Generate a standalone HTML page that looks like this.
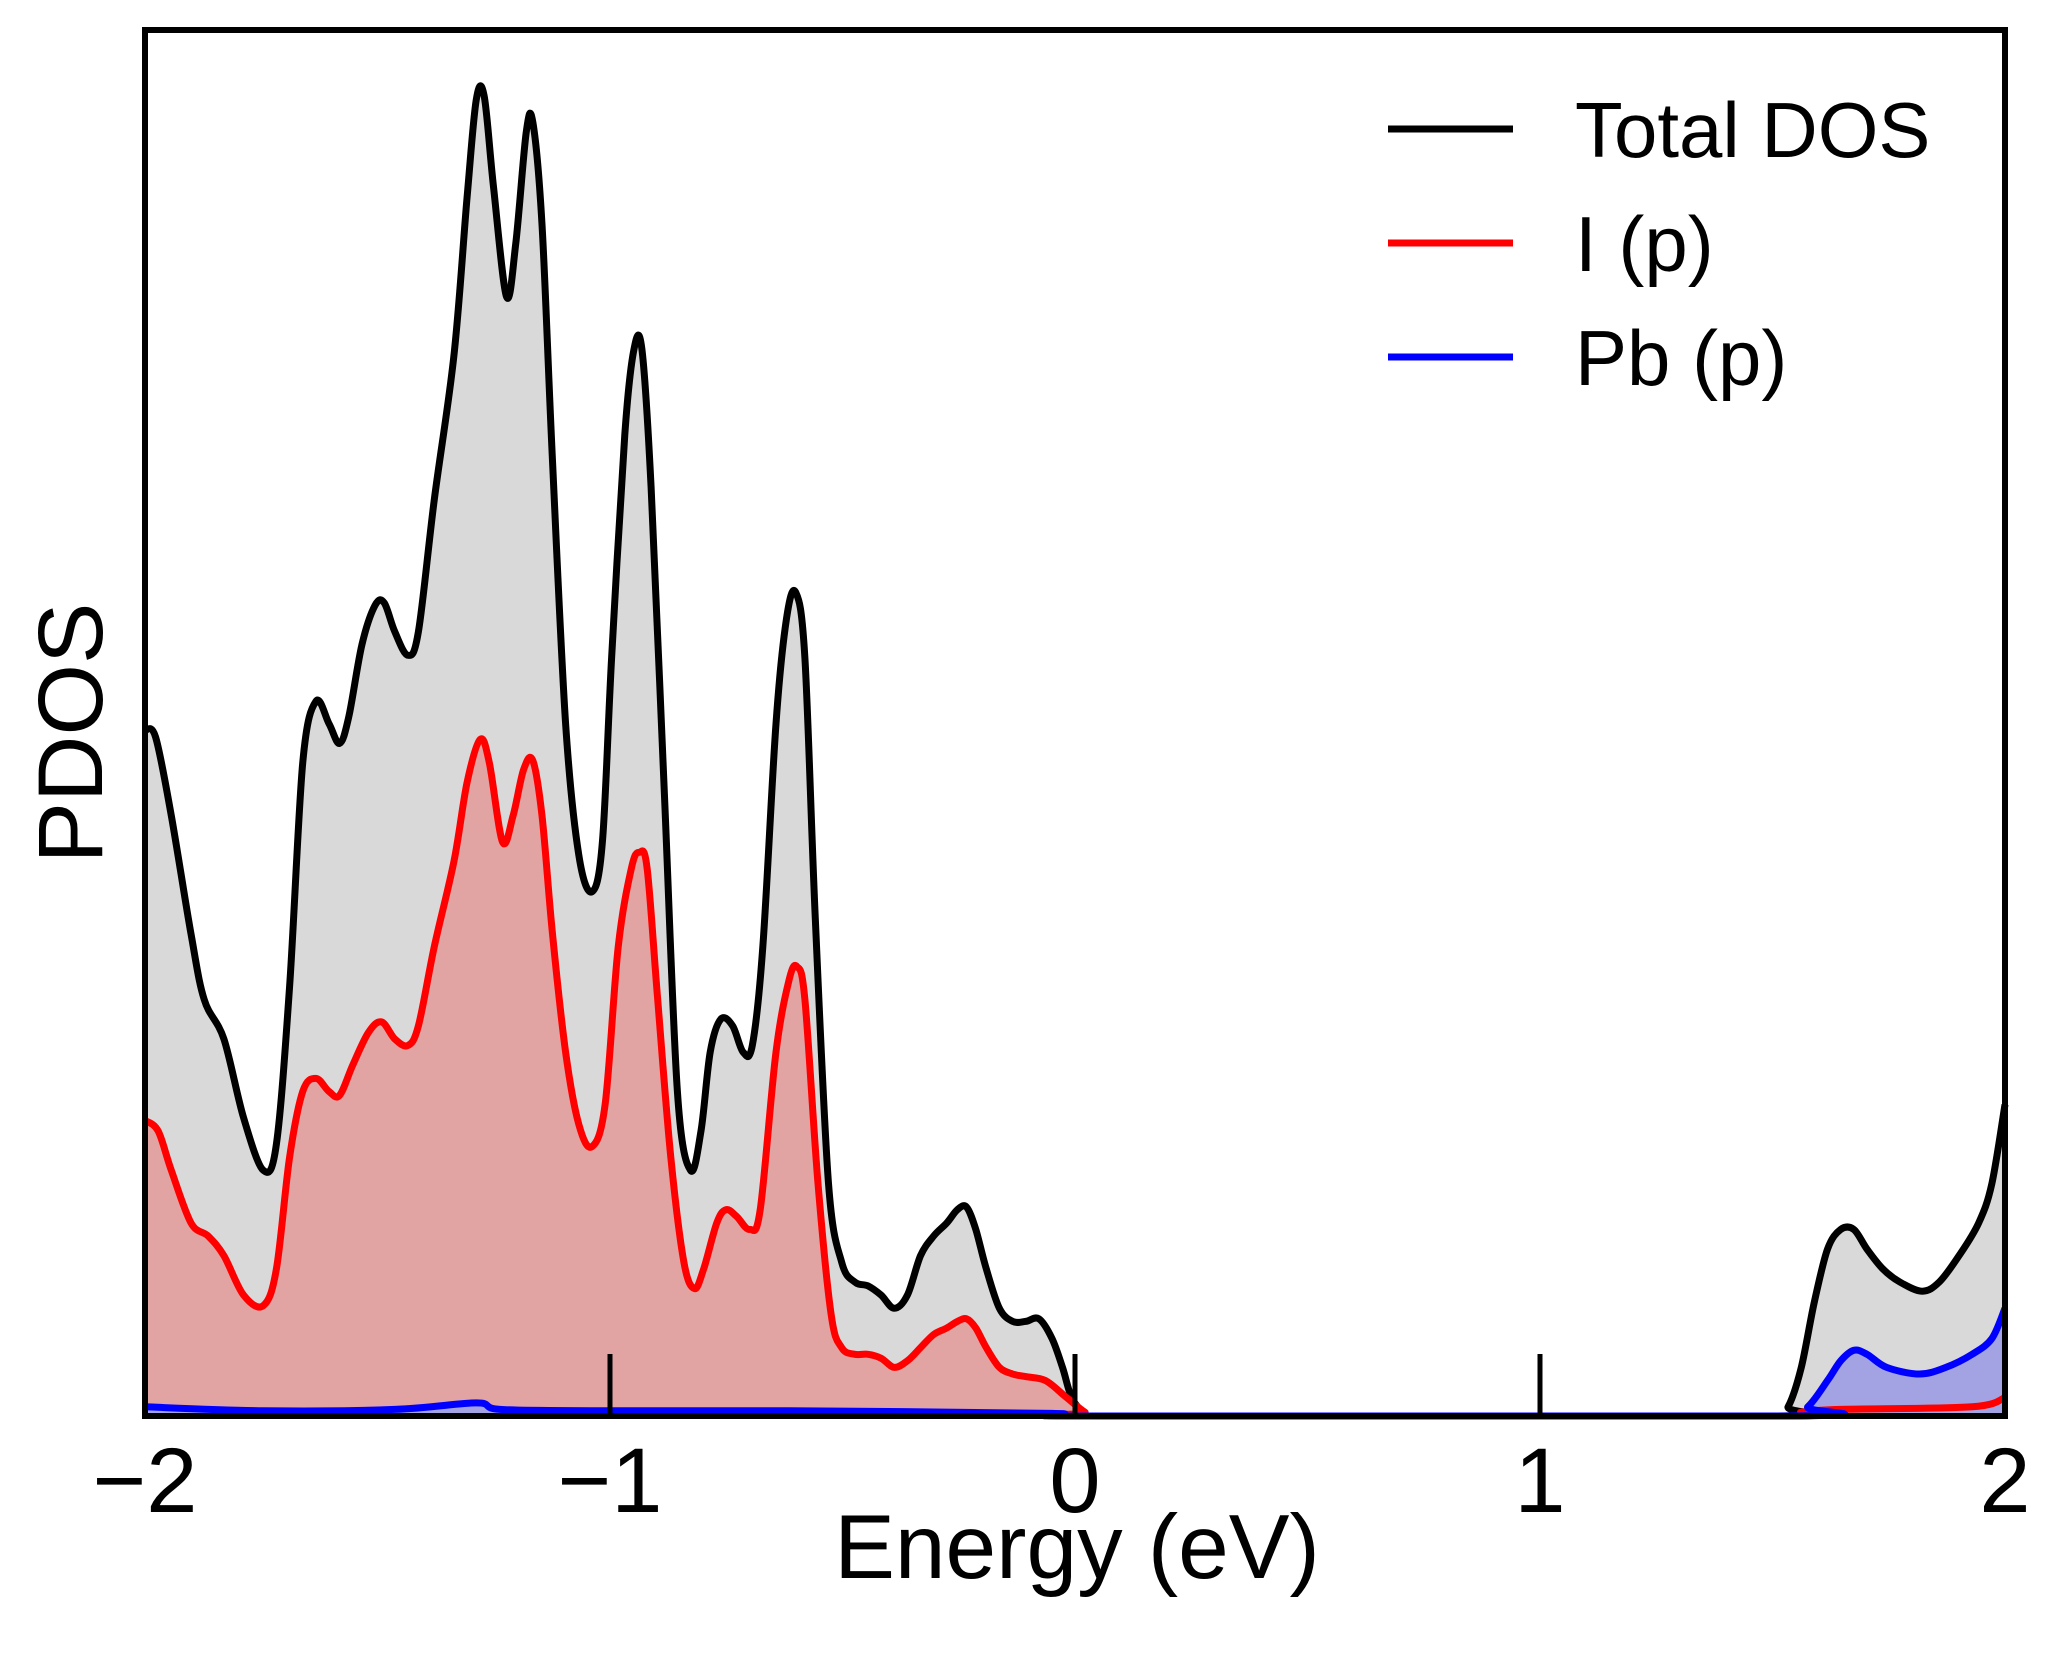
<!DOCTYPE html>
<html><head><meta charset="utf-8"><style>html,body{margin:0;padding:0;background:#fff}svg{display:block}</style></head>
<body>
<svg id="chart" width="2060" height="1662" viewBox="0 0 2060 1662" xmlns="http://www.w3.org/2000/svg" font-family="'Liberation Sans', Arial, sans-serif">
<g id="fills"></g>
<g id="lines"></g>
<g id="ticks"></g>
<rect x="145" y="30" width="1860" height="1386" fill="none" stroke="#000" stroke-width="6"/>
<text x="1077" y="1578" font-size="91" text-anchor="middle">Energy (eV)</text>
<text x="102" y="733" font-size="92" text-anchor="middle" transform="rotate(-90 102 733)">PDOS</text>
<g>
<line x1="1388" y1="129" x2="1513" y2="129" stroke="#000" stroke-width="7"/>
<text x="1575" y="157" font-size="78">Total DOS</text>
<line x1="1388" y1="243" x2="1513" y2="243" stroke="#f00" stroke-width="7"/>
<text x="1575" y="271" font-size="78">I (p)</text>
<line x1="1388" y1="357" x2="1513" y2="357" stroke="#00f" stroke-width="7"/>
<text x="1575" y="385" font-size="78">Pb (p)</text>
</g>
</svg>
<script>
const totalPts=[[110,555],[118,560],[130,620],[145,710],[155,760],[170,790],[185,850],[200,890],[210,870],[220,750],[230,580],[240,533],[250,550],[258,565],[265,545],[275,490],[285,460],[292,458],[300,480],[310,498],[318,480],[330,380],[345,270],[355,150],[362,75],[368,72],[375,140],[385,225],[392,185],[400,100],[405,92],[412,170],[420,350],[430,550],[440,650],[450,678],[458,640],[465,500],[475,330],[482,265],[488,265],[495,370],[505,600],[515,830],[525,890],[533,860],[540,800],[548,775],[557,780],[565,800],[572,795],[580,720],[590,550],[598,470],[605,450],[612,500],[620,700],[630,900],[640,960],[650,975],[660,978],[670,985],[680,995],[690,985],[700,955],[710,940],[720,930],[728,920],[735,918],[742,935],[750,965],[760,995],[770,1005],[780,1005],[790,1003],[800,1018],[808,1040],[815,1063],[825,1075],[835,1077],[1350,1077],[1360,1070],[1370,1040],[1380,990],[1390,950],[1400,935],[1410,935],[1420,950],[1432,965],[1445,975],[1462,982],[1475,975],[1490,955],[1505,930],[1515,900],[1525,840]];
const iPts=[[110,852],[120,860],[130,890],[145,930],[158,940],[170,955],[185,985],[200,993],[210,965],[220,880],[230,830],[240,820],[250,830],[258,833],[268,810],[280,785],[290,777],[300,790],[310,795],[318,780],[330,720],[345,655],[355,595],[365,562],[372,580],[382,640],[390,620],[398,585],[405,578],[412,620],[420,710],[430,800],[440,855],[450,872],[460,840],[470,720],[480,660],[486,648],[492,660],[500,760],[510,880],[520,960],[528,980],[535,965],[545,930],[552,920],[560,925],[570,935],[578,920],[590,800],[600,745],[606,735],[612,760],[622,900],[632,1000],[640,1025],[650,1030],[660,1030],[670,1033],[680,1040],[690,1035],[700,1025],[710,1015],[720,1010],[728,1005],[735,1003],[742,1010],[750,1025],[760,1040],[770,1045],[780,1047],[795,1050],[810,1062],[825,1074],[835,1077],[1350,1077],[1370,1074],[1400,1072],[1500,1070],[1525,1063]];
const pbPts=[[110,1070],[200,1073],[300,1072],[362,1067],[380,1072],[450,1073],[600,1073],[800,1075],[835,1077],[1360,1077],[1375,1070],[1390,1050],[1400,1035],[1410,1027],[1420,1030],[1435,1040],[1460,1045],[1480,1040],[1500,1030],[1515,1018],[1525,995]];
// data arrays: energy (eV) and DOS values (arb. units)
const totalE=totalPts.map(p=>-2+(p[0]-110)/353.75), totalV=totalPts.map(p=>(1077-p[1])/100);
const iE=iPts.map(p=>-2+(p[0]-110)/353.75), iV=iPts.map(p=>(1077-p[1])/100);
const pbE=pbPts.map(p=>-2+(p[0]-110)/353.75), pbV=pbPts.map(p=>(1077-p[1])/100);
const xTicks=[-2,-1,0,1,2];
const xTickLabels=['\u22122','\u22121','0','1','2'];
const X=e=>145+(e+2)/4*1860, Y=v=>1416-v/10.55*1386;
const NS='http://www.w3.org/2000/svg';
function pathD(E,V){
 const P=E.map((e,i)=>[X(e),Y(V[i])]);
 let d='M'+P[0][0].toFixed(1)+' '+P[0][1].toFixed(1);
 for(let i=0;i<P.length-1;i++){
  const p0=P[Math.max(0,i-1)],p1=P[i],p2=P[i+1],p3=P[Math.min(P.length-1,i+2)];
  const c1x=p1[0]+(p2[0]-p0[0])/6,c1y=p1[1]+(p2[1]-p0[1])/6;
  const c2x=p2[0]-(p3[0]-p1[0])/6,c2y=p2[1]-(p3[1]-p1[1])/6;
  d+=` C${c1x.toFixed(1)} ${Math.min(1416,c1y).toFixed(1)} ${c2x.toFixed(1)} ${Math.min(1416,c2y).toFixed(1)} ${p2[0].toFixed(1)} ${p2[1].toFixed(1)}`;
 }
 return d;
}
const fills=document.getElementById('fills'), lines=document.getElementById('lines'), ticks=document.getElementById('ticks');
const series=[['total',totalE,totalV,'#d9d9d9','#000'],['i-p',iE,iV,'#e2a3a3','#f00'],['pb-p',pbE,pbV,'#a3a3e3','#00f']];
series.forEach(s=>{
 const f=document.createElementNS(NS,'path');
 f.setAttribute('d',pathD(s[1],s[2])+` L${X(s[1][s[1].length-1])} ${Y(0)} L${X(s[1][0])} ${Y(0)} Z`);
 f.setAttribute('fill',s[3]);
 
 
 fills.appendChild(f);
});
series.forEach(s=>{
 const l=document.createElementNS(NS,'path');
 l.setAttribute('d',pathD(s[1],s[2]));
 l.setAttribute('fill','none');l.setAttribute('stroke',s[4]);l.setAttribute('stroke-width','7');l.setAttribute('stroke-linejoin','round');
 
 
 lines.appendChild(l);
});
xTicks.forEach((t,i)=>{
 const ln=document.createElementNS(NS,'line');
 ln.setAttribute('x1',X(t));ln.setAttribute('x2',X(t));ln.setAttribute('y1',1354);ln.setAttribute('y2',1416);
 ln.setAttribute('stroke','#000');ln.setAttribute('stroke-width','5');
 
 
 ticks.appendChild(ln);
 const tx=document.createElementNS(NS,'text');
 tx.setAttribute('x',X(t));tx.setAttribute('y',1512);tx.setAttribute('font-size','92');tx.setAttribute('text-anchor','middle');
 tx.textContent=xTickLabels[i];
 
 
 ticks.appendChild(tx);
});
</script>
</body></html>
